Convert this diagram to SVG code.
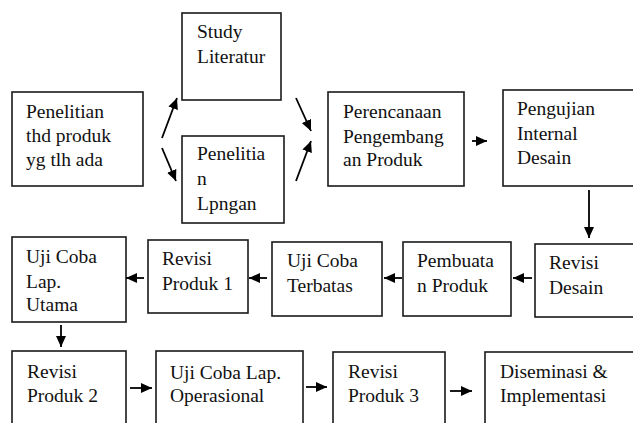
<svg xmlns="http://www.w3.org/2000/svg" width="633" height="423" viewBox="0 0 633 423">
  <style>
    .box { fill: #fff; stroke: #1a1a1a; stroke-width: 1.6; }
    .lbl { font-family: 'Liberation Serif', 'Times New Roman', serif; font-size: 19.5px; fill: #111; }
    .con { fill: none; stroke: #000; stroke-width: 1.8; marker-end: url(#head); }
  </style>
  <defs>
    <marker id="head" markerUnits="userSpaceOnUse" markerWidth="12" markerHeight="10" refX="11" refY="5" orient="auto">
      <path d="M0,0 L11,5 L0,10 Z" fill="#000"/>
    </marker>
  </defs>
  <rect width="633" height="423" fill="#fff"/>

  <g id="n-penelitian-produk">
    <rect class="box" x="12" y="92" width="131" height="94"/>
    <text class="lbl" x="26" y="118">Penelitian</text>
    <text class="lbl" x="26" y="142">thd produk</text>
    <text class="lbl" x="26" y="166">yg tlh ada</text>
  </g>
  <g id="n-study-literatur">
    <rect class="box" x="182" y="13" width="99" height="87"/>
    <text class="lbl" x="197" y="38">Study</text>
    <text class="lbl" x="197" y="62.5">Literatur</text>
  </g>
  <g id="n-penelitian-lapangan">
    <rect class="box" x="182" y="136" width="102" height="87"/>
    <text class="lbl" x="197" y="160">Penelitia</text>
    <text class="lbl" x="197" y="185">n</text>
    <text class="lbl" x="197" y="210">Lpngan</text>
  </g>
  <g id="n-perencanaan">
    <rect class="box" x="328" y="92" width="136" height="94"/>
    <text class="lbl" x="343" y="118">Perencanaan</text>
    <text class="lbl" x="343" y="142.5">Pengembang</text>
    <text class="lbl" x="343" y="166">an Produk</text>
  </g>
  <g id="n-pengujian">
    <rect class="box" x="503" y="90" width="140" height="96"/>
    <text class="lbl" x="517" y="115">Pengujian</text>
    <text class="lbl" x="517" y="139.5">Internal</text>
    <text class="lbl" x="517" y="164">Desain</text>
  </g>

  <g id="n-revisi-desain">
    <rect class="box" x="535" y="244" width="110" height="73"/>
    <text class="lbl" x="549" y="269">Revisi</text>
    <text class="lbl" x="549" y="294">Desain</text>
  </g>
  <g id="n-pembuatan">
    <rect class="box" x="403" y="242" width="108" height="74"/>
    <text class="lbl" x="417" y="267">Pembuata</text>
    <text class="lbl" x="417" y="291.5">n Produk</text>
  </g>
  <g id="n-uji-terbatas">
    <rect class="box" x="272" y="242" width="110" height="74"/>
    <text class="lbl" x="287" y="267">Uji Coba</text>
    <text class="lbl" x="287" y="291.5">Terbatas</text>
  </g>
  <g id="n-revisi-1">
    <rect class="box" x="148" y="240" width="100" height="73"/>
    <text class="lbl" x="162" y="265">Revisi</text>
    <text class="lbl" x="162" y="289.5">Produk 1</text>
  </g>
  <g id="n-uji-utama">
    <rect class="box" x="12" y="237" width="114" height="85"/>
    <text class="lbl" x="26" y="263">Uji Coba</text>
    <text class="lbl" x="26" y="287.5">Lap.</text>
    <text class="lbl" x="26" y="311">Utama</text>
  </g>

  <g id="n-revisi-2">
    <rect class="box" x="12" y="351" width="114" height="90"/>
    <text class="lbl" x="27" y="377.5">Revisi</text>
    <text class="lbl" x="27" y="401.5">Produk 2</text>
  </g>
  <g id="n-uji-operasional">
    <rect class="box" x="156" y="351" width="147" height="90"/>
    <text class="lbl" x="170" y="379">Uji Coba Lap.</text>
    <text class="lbl" x="170" y="401.5">Operasional</text>
  </g>
  <g id="n-revisi-3">
    <rect class="box" x="333" y="352" width="112" height="90"/>
    <text class="lbl" x="348" y="377.5">Revisi</text>
    <text class="lbl" x="348" y="401.5">Produk 3</text>
  </g>
  <g id="n-diseminasi">
    <rect class="box" x="485" y="352" width="160" height="90"/>
    <text class="lbl" x="500" y="377.5">Diseminasi &amp;</text>
    <text class="lbl" x="500" y="401.5">Implementasi</text>
  </g>

  <g id="connectors">
    <path class="con" d="M162,138 L177,98"/>
    <path class="con" d="M162,148 L176,181"/>
    <path class="con" d="M296,98 L311,131"/>
    <path class="con" d="M296,181 L311,141"/>
    <path class="con" d="M472,141 L487,141"/>
    <path class="con" d="M589,190 L589,238"/>
    <path class="con" d="M532,278 L513,278"/>
    <path class="con" d="M402,278 L384,278"/>
    <path class="con" d="M267,278 L249,278"/>
    <path class="con" d="M144,278 L126,278"/>
    <path class="con" d="M61,325 L61,347"/>
    <path class="con" d="M130,388 L152,388"/>
    <path class="con" d="M306,387 L327,387"/>
    <path class="con" d="M450,391 L472,391"/>
  </g>
</svg>
